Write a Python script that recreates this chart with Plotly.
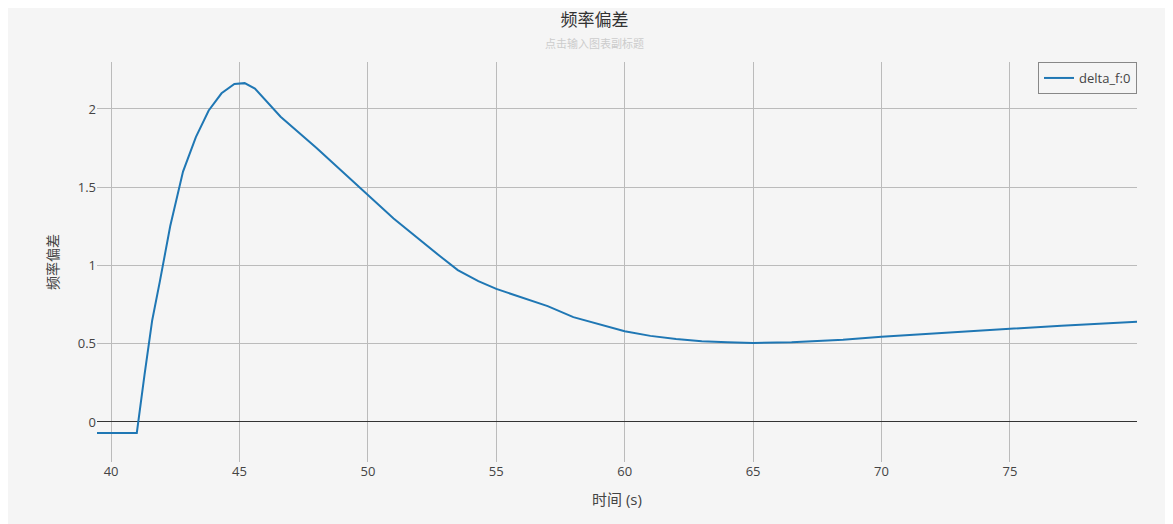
import plotly.graph_objects as go

t = [39.45, 41.0, 41.3, 41.6, 41.9, 42.3, 42.8, 43.3, 43.8, 44.3, 44.8, 45.2, 45.6, 46.0, 46.6, 48, 50, 51, 52.8, 53.5, 54.3, 55, 57, 58, 60, 61, 62, 63, 64, 65, 66.5, 68.5, 70, 72, 75, 77, 80]
delta_f = [-0.07, -0.07, 0.3, 0.65, 0.9, 1.25, 1.6, 1.82, 1.99, 2.1, 2.16, 2.165, 2.13, 2.06, 1.95, 1.75, 1.45, 1.3, 1.06, 0.97, 0.9, 0.85, 0.74, 0.67, 0.58, 0.55, 0.53, 0.515, 0.51, 0.505, 0.51, 0.525, 0.545, 0.565, 0.595, 0.615, 0.64]

font = "Open Sans, Noto Sans CJK SC"
fig = go.Figure(go.Scatter(x=t, y=delta_f, mode="lines", name="delta_f:0",
                           line=dict(color="#1f77b4", width=2)))
fig.update_layout(
    width=1173, height=524,
    paper_bgcolor="#f5f5f5", plot_bgcolor="#f5f5f5",
    font=dict(family=font, size=13, color="#444"),
    title=dict(text="频率偏差<br><span style='font-size:11px;color:#cccccc'>点击输入图表副标题</span>",
               x=0.5, y=0.965, xanchor="center", font=dict(size=17, color="#333")),
    margin=dict(l=89, r=44, t=54, b=70),
    showlegend=True,
    legend=dict(x=1, y=1, xanchor="right", yanchor="top", bordercolor="#888", borderwidth=1,
                bgcolor="#f5f5f5", font=dict(size=13)),
    xaxis=dict(range=[39.45, 79.95], dtick=5, showgrid=True, gridcolor="#bbb", zeroline=False,
               title=dict(text="时间 (s)", font=dict(size=15)), ticks=""),
    yaxis=dict(range=[-0.256, 2.3], dtick=0.5, showgrid=True, gridcolor="#bbb",
               zeroline=True, zerolinecolor="#333", zerolinewidth=1,
               title=dict(text="频率偏差", font=dict(size=14))),
)
fig.write_html("out.html")
